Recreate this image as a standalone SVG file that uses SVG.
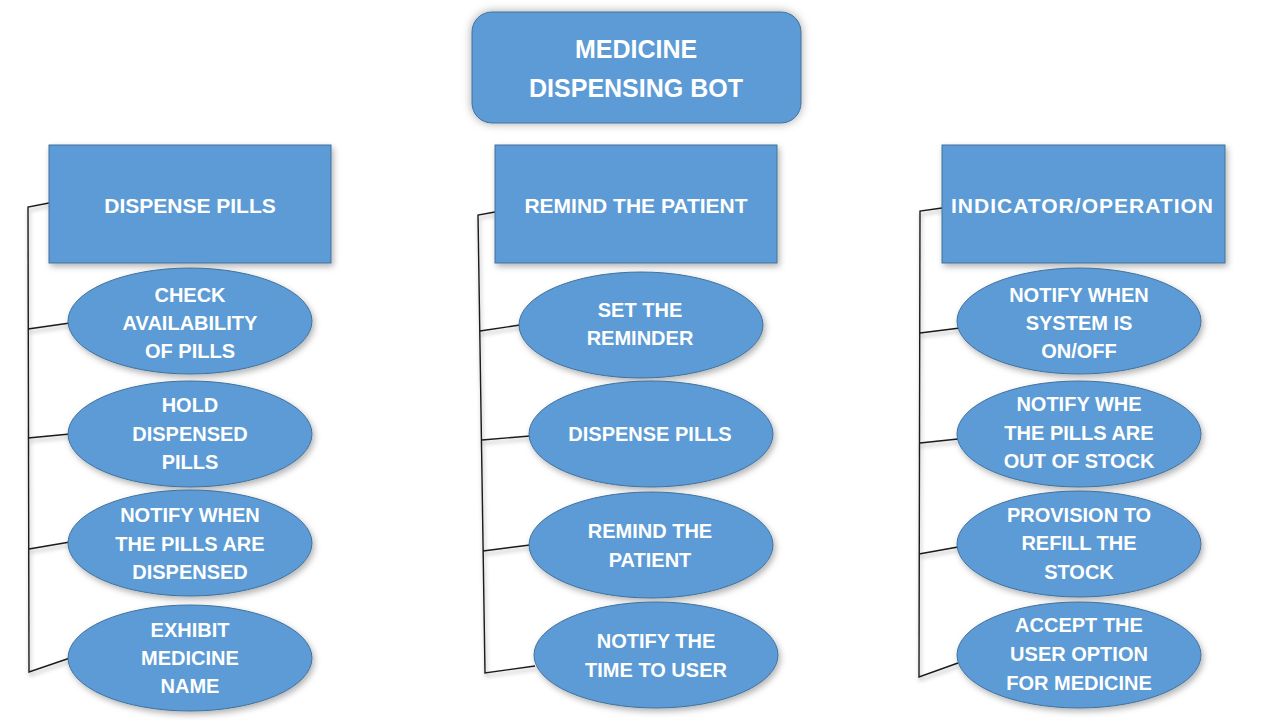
<svg xmlns="http://www.w3.org/2000/svg" width="1280" height="720" viewBox="0 0 1280 720">
<defs>
<filter id="sh" x="-20%" y="-20%" width="140%" height="140%"><feDropShadow dx="2" dy="3" stdDeviation="3" flood-color="#000" flood-opacity="0.3"/></filter>
<filter id="glow" x="-20%" y="-30%" width="140%" height="160%"><feDropShadow dx="0" dy="0" stdDeviation="5" flood-color="#000" flood-opacity="0.35"/></filter>
<filter id="lsh" x="-50%" y="-5%" width="200%" height="110%"><feDropShadow dx="1" dy="3" stdDeviation="2" flood-color="#000" flood-opacity="0.35"/></filter>
</defs>
<style>
.box{fill:#5B9BD5;stroke:#41719C;stroke-width:1}
.t{font-family:"Liberation Sans",Arial,sans-serif;font-weight:bold;fill:#fff;text-anchor:middle}
.h{font-size:21px}
.e{font-size:20px}
.c{fill:none;stroke:#1a1a1a;stroke-width:1.4}
</style>
<rect width="1280" height="720" fill="#fff"/>
<g id="connectors" filter="url(#lsh)">
<polyline class="c" points="49,203 28,207 29,672 70,658"/>
<line class="c" x1="28" y1="329" x2="70" y2="323"/>
<line class="c" x1="28" y1="438" x2="70" y2="434"/>
<line class="c" x1="29" y1="549" x2="70" y2="542"/>
<polyline class="c" points="495,212 478,215 485,673 535,666"/>
<line class="c" x1="480" y1="331" x2="520" y2="325"/>
<line class="c" x1="482" y1="440" x2="530" y2="436"/>
<line class="c" x1="483" y1="551" x2="530" y2="545"/>
<polyline class="c" points="942,208 920,211 919,677 958,663"/>
<line class="c" x1="920" y1="333" x2="960" y2="328"/>
<line class="c" x1="920" y1="443" x2="958" y2="439"/>
<line class="c" x1="919" y1="554" x2="958" y2="547"/>
</g>
<g id="root"><rect class="box" x="472" y="12" width="329" height="111" rx="20" filter="url(#glow)"/>
<text class="t" x="636" y="58" font-size="25">MEDICINE</text>
<text class="t" x="636" y="97" font-size="25">DISPENSING BOT</text></g>
<g id="h1"><rect class="box" x="49" y="145" width="282" height="118" filter="url(#sh)"/><text class="t h" x="190" y="213">DISPENSE PILLS</text></g>
<g id="h2"><rect class="box" x="495" y="145" width="282" height="118" filter="url(#sh)"/><text class="t h" x="636" y="213">REMIND THE PATIENT</text></g>
<g id="h3"><rect class="box" x="942" y="145" width="283" height="118" filter="url(#sh)"/><text class="t h" x="1082" y="213" textLength="262">INDICATOR/OPERATION</text></g>
<g id="a1"><ellipse class="box" cx="190" cy="321" rx="122" ry="53" filter="url(#sh)"/><text class="t e" x="190" y="302">CHECK</text><text class="t e" x="190" y="330">AVAILABILITY</text><text class="t e" x="190" y="358">OF PILLS</text></g>
<g id="a2"><ellipse class="box" cx="190" cy="434" rx="122" ry="53" filter="url(#sh)"/><text class="t e" x="190" y="412">HOLD</text><text class="t e" x="190" y="441">DISPENSED</text><text class="t e" x="190" y="469">PILLS</text></g>
<g id="a3"><ellipse class="box" cx="190" cy="543" rx="122" ry="53" filter="url(#sh)"/><text class="t e" x="190" y="522">NOTIFY WHEN</text><text class="t e" x="190" y="551">THE PILLS ARE</text><text class="t e" x="190" y="579">DISPENSED</text></g>
<g id="a4"><ellipse class="box" cx="190" cy="658" rx="122" ry="53" filter="url(#sh)"/><text class="t e" x="190" y="637">EXHIBIT</text><text class="t e" x="190" y="665">MEDICINE</text><text class="t e" x="190" y="693">NAME</text></g>
<g id="b1"><ellipse class="box" cx="641" cy="325" rx="122" ry="53" filter="url(#sh)"/><text class="t e" x="640" y="317">SET THE</text><text class="t e" x="640" y="345">REMINDER</text></g>
<g id="b2"><ellipse class="box" cx="651" cy="434" rx="122" ry="53" filter="url(#sh)"/><text class="t e" x="650" y="441">DISPENSE PILLS</text></g>
<g id="b3"><ellipse class="box" cx="651" cy="545" rx="122" ry="53" filter="url(#sh)"/><text class="t e" x="650" y="538">REMIND THE</text><text class="t e" x="650" y="567">PATIENT</text></g>
<g id="b4"><ellipse class="box" cx="656" cy="655" rx="122" ry="53" filter="url(#sh)"/><text class="t e" x="656" y="648">NOTIFY THE</text><text class="t e" x="656" y="677">TIME TO USER</text></g>
<g id="c1"><ellipse class="box" cx="1079" cy="321" rx="122" ry="53" filter="url(#sh)"/><text class="t e" x="1079" y="302">NOTIFY WHEN</text><text class="t e" x="1079" y="330">SYSTEM IS</text><text class="t e" x="1079" y="358">ON/OFF</text></g>
<g id="c2"><ellipse class="box" cx="1079" cy="434" rx="122" ry="53" filter="url(#sh)"/><text class="t e" x="1079" y="411">NOTIFY WHE</text><text class="t e" x="1079" y="440">THE PILLS ARE</text><text class="t e" x="1079" y="468">OUT OF STOCK</text></g>
<g id="c3"><ellipse class="box" cx="1079" cy="544" rx="122" ry="53" filter="url(#sh)"/><text class="t e" x="1079" y="522">PROVISION TO</text><text class="t e" x="1079" y="550">REFILL THE</text><text class="t e" x="1079" y="579">STOCK</text></g>
<g id="c4"><ellipse class="box" cx="1079" cy="655" rx="122" ry="53" filter="url(#sh)"/><text class="t e" x="1079" y="632">ACCEPT THE</text><text class="t e" x="1079" y="661">USER OPTION</text><text class="t e" x="1079" y="690">FOR MEDICINE</text></g>
</svg>
